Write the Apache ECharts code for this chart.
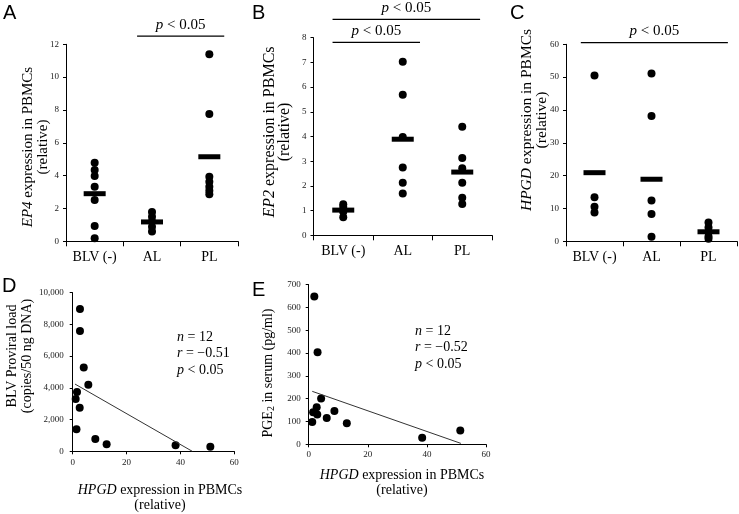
<!DOCTYPE html>
<html><head><meta charset="utf-8">
<script src="https://cdn.jsdelivr.net/npm/echarts@6/dist/echarts.min.js"></script>
<style>html,body{margin:0;padding:0;background:#fff}#c{width:739px;height:514px}</style>
</head><body><div id="c"></div>
<script>
const SERIF = '"Liberation Serif", "Times New Roman", serif';
const SANS = '"Liberation Sans", Arial, sans-serif';

// ---------- data ----------
const categories = ['BLV (-)', 'AL', 'PL'];
// Panel A: EP4 expression
const ep4BLV = [4.79, 4.34, 3.98, 3.33, 2.52, 0.93, 0.18];
const ep4AL  = [1.78, 1.5, 1.2, 0.89, 0.59];
const ep4PL  = [11.4, 7.75, 3.93, 3.63, 3.33, 3.08, 2.86];
const ep4Mean = [2.9, 1.18, 5.15];
// Panel B: EP2 expression
const ep2BLV = [1.26, 1.15, 1.0, 0.95, 0.73];
const ep2AL  = [7.03, 5.69, 3.98, 2.75, 2.13, 1.69];
const ep2PL  = [4.39, 3.13, 2.71, 2.13, 1.52, 1.27];
const ep2Mean = [1.02, 3.89, 2.56];
// Panel C: HPGD expression
const hpgdBLV = [50.5, 13.4, 10.5, 8.8];
const hpgdAL  = [51.1, 38.2, 12.4, 8.3, 1.4];
const hpgdPL  = [5.7, 4.2, 2.8, 1.5, 0.8];
const hpgdMean = [20.9, 18.9, 2.9];
// Panel D: HPGD vs BLV proviral load
const dHpgd = [2.7, 2.7, 4.1, 5.8, 1.6, 1.1, 2.6, 1.4, 8.4, 12.6, 38.2, 51.1];
const dLoad = [8970, 7580, 5290, 4200, 3740, 3300, 2750, 1390, 780, 440, 380, 290];
const dTrendX = [0.85, 44.4];
const dTrendY = [4240, 0];
// Panel E: HPGD vs PGE2
const eHpgd = [1.9, 3.0, 4.2, 2.7, 1.5, 2.9, 1.2, 6.1, 8.7, 12.9, 38.4, 51.3];
const ePge2 = [647, 403, 201, 162, 140, 130, 98, 115, 146, 92, 29, 60];
const eTrendX = [1.2, 51.5];
const eTrendY = [232, 4];
// significance brackets: [grid, fromCategory, toCategory, level]
const sigFrom  = [1, 0, 0, 0];
const sigTo    = [2, 2, 1, 2];
const sigLevel = [12.5, 8.74, 7.81, 60.5];
const sigGrid  = [0, 1, 1, 2];
const sigText  = ['p < 0.05', 'p < 0.05', 'p < 0.05', 'p < 0.05'];
// correlation stats
const statsD = ['12', '\u22120.51', '0.05'];
const statsE = ['12', '\u22120.52', '0.05'];

// ---------- styles ----------
const sigExtL = [0.26, 0.18, 0.18, 0.24];
const sigExtR = [0.26, 0.30, 0.29, 0.34];

function pts(groups) {
  const out = [];
  groups.forEach((g, i) => g.forEach(v => out.push([i, v])));
  return out;
}
function pairs(xs, ys) { return xs.map((x, i) => [x, ys[i]]); }

const grids = [
  {left: 66, top: 44.3, width: 172, height: 197},
  {left: 313.5, top: 37.7, width: 178.5, height: 197.6},
  {left: 566, top: 44.3, width: 171, height: 197},
  {left: 72.7, top: 292.7, width: 161.6, height: 158.6},
  {left: 308.7, top: 284.5, width: 177.3, height: 159.8}
];

const axLine = {show: true, onZero: false, lineStyle: {color: '#000', width: 1}};
function catX(gi) {
  return {type: 'category', gridIndex: gi, data: categories, boundaryGap: true,
    axisLine: axLine, axisTick: {show: true, length: 5, alignWithLabel: false, lineStyle: {color: '#000'}},
    axisLabel: {fontFamily: SERIF, fontSize: 14, color: '#000', margin: 9, interval: 0},
    splitLine: {show: false}};
}
function valAx(gi, min, max, interval, margin, fmt) {
  return {type: 'value', gridIndex: gi, min: min, max: max, interval: interval,
    axisLine: axLine, axisTick: {show: true, length: 3, lineStyle: {color: '#000'}},
    axisLabel: {fontFamily: SERIF, fontSize: 9, color: '#222', margin: margin, formatter: fmt, showMinLabel: true, showMaxLabel: true},
    splitLine: {show: false}};
}
const commaFmt = v => v.toLocaleString('en-US');

const dot = {type: 'scatter', symbol: 'circle', symbolSize: 8, itemStyle: {color: '#000', opacity: 1}, silent: true, animation: false};
const bar = {type: 'scatter', symbol: 'rect', symbolSize: [22, 5], itemStyle: {color: '#000', opacity: 1}, z: 5, silent: true, animation: false};
const trend = {type: 'line', symbol: 'none', lineStyle: {color: '#333', width: 1}, silent: true, animation: false};

const option = {
  backgroundColor: '#fff',
  animation: false,
  grid: grids,
  xAxis: [catX(0), catX(1), catX(2),
    valAx(3, 0, 60, 20, 7), valAx(4, 0, 60, 20, 6)],
  yAxis: [valAx(0, 0, 12, 2, 7), valAx(1, 0, 8, 1, 7), valAx(2, 0, 60, 10, 7),
    valAx(3, 0, 10000, 2000, 9, commaFmt), valAx(4, 0, 700, 100, 8)],
  series: [
    Object.assign({}, dot, {xAxisIndex: 0, yAxisIndex: 0, data: pts([ep4BLV, ep4AL, ep4PL])}),
    Object.assign({}, bar, {xAxisIndex: 0, yAxisIndex: 0, data: ep4Mean.map((v, i) => [i, v])}),
    Object.assign({}, dot, {xAxisIndex: 1, yAxisIndex: 1, data: pts([ep2BLV, ep2AL, ep2PL])}),
    Object.assign({}, bar, {xAxisIndex: 1, yAxisIndex: 1, data: ep2Mean.map((v, i) => [i, v])}),
    Object.assign({}, dot, {xAxisIndex: 2, yAxisIndex: 2, data: pts([hpgdBLV, hpgdAL, hpgdPL])}),
    Object.assign({}, bar, {xAxisIndex: 2, yAxisIndex: 2, data: hpgdMean.map((v, i) => [i, v])}),
    Object.assign({}, dot, {xAxisIndex: 3, yAxisIndex: 3, data: pairs(dHpgd, dLoad)}),
    Object.assign({}, trend, {xAxisIndex: 3, yAxisIndex: 3, data: pairs(dTrendX, dTrendY)}),
    Object.assign({}, dot, {xAxisIndex: 4, yAxisIndex: 4, data: pairs(eHpgd, ePge2)}),
    Object.assign({}, trend, {xAxisIndex: 4, yAxisIndex: 4, data: pairs(eTrendX, eTrendY)})
  ]
};

const chart = echarts.init(document.getElementById('c'), null, {renderer: 'canvas'});
chart.setOption(option);

// ---------- annotations ----------
function rich(size) {
  return {
    i: {fontStyle: 'italic', fontSize: size, fontFamily: SERIF, fill: '#000'},
    n: {fontSize: size, fontFamily: SERIF, fill: '#000'},
    sub: {fontSize: Math.round(size * 0.68), fontFamily: SERIF, fill: '#000', verticalAlign: 'bottom', lineHeight: 10}
  };
}
function txt(text, x, y, size, opts) {
  opts = opts || {};
  return {
    type: 'text', x: x, y: y, rotation: opts.rot || 0, silent: true,
    style: {
      text: text, fontSize: size, fontFamily: opts.family || SERIF, fill: '#000',
      fontStyle: opts.italic ? 'italic' : 'normal',
      align: opts.align || 'center', textAlign: opts.align || 'center',
      verticalAlign: 'middle', textVerticalAlign: 'middle',
      lineHeight: opts.lh || Math.round(size * 1.1),
      rich: rich(size)
    }
  };
}
const g = [];
// significance bars
for (let k = 0; k < sigFrom.length; k++) {
  const gi = sigGrid[k];
  const p0 = chart.convertToPixel({gridIndex: gi}, [0, sigLevel[k]]);
  const p1 = chart.convertToPixel({gridIndex: gi}, [1, sigLevel[k]]);
  const band = p1[0] - p0[0];
  const a = chart.convertToPixel({gridIndex: gi}, [sigFrom[k], sigLevel[k]]);
  const b = chart.convertToPixel({gridIndex: gi}, [sigTo[k], sigLevel[k]]);
  const x1 = a[0] - sigExtL[k] * band, x2 = b[0] + sigExtR[k] * band;
  g.push({type: 'line', silent: true, shape: {x1: x1, y1: a[1], x2: x2, y2: a[1]}, style: {stroke: '#000', lineWidth: 1.2}});
  const t = sigText[k].replace(/^p/, '{i|p}');
  g.push(txt(t, (x1 + x2) / 2, a[1] - 11.5, 15));
}
// panel letters
[['A', 3, 13], ['B', 252, 13], ['C', 510, 13], ['D', 2, 286], ['E', 252, 290]].forEach(l => {
  g.push(txt(l[0], l[1], l[2], 20, {family: SANS, align: 'left'}));
});
// y-axis titles
g.push(txt('{i|EP4} expression in PBMCs\n(relative)', 36, 147, 15, {rot: Math.PI / 2, lh: 15}));
g.push(txt('{i|EP2} expression in PBMCs\n(relative)', 277.5, 132, 16, {rot: Math.PI / 2, lh: 15}));
g.push(txt('{i|HPGD} expression in PBMCs\n(relative)', 534.5, 120, 15.5, {rot: Math.PI / 2, lh: 15}));
g.push(txt('BLV Proviral load\n(copies/50 ng DNA)', 19.5, 356, 14, {rot: Math.PI / 2, lh: 15}));
g.push(txt('{n|PGE}{sub|2}{n| in serum (pg/ml)}', 268, 373, 14, {rot: Math.PI / 2, lh: 17}));
// x-axis titles
g.push(txt('{i|HPGD} expression in PBMCs\n(relative)', 160, 497.5, 14, {lh: 15}));
g.push(txt('{i|HPGD} expression in PBMCs\n(relative)', 402, 482.5, 14, {lh: 15}));
// stats
function stats(s) { return '{i|n} = ' + s[0] + '\n{i|r} = ' + s[1] + '\n{i|p} < ' + s[2]; }
g.push(txt(stats(statsD), 177, 353.5, 14, {align: 'left', lh: 16.5}));
g.push(txt(stats(statsE), 415, 347.5, 14, {align: 'left', lh: 16.5}));

chart.setOption({graphic: {elements: g}});
</script>
</body></html>
